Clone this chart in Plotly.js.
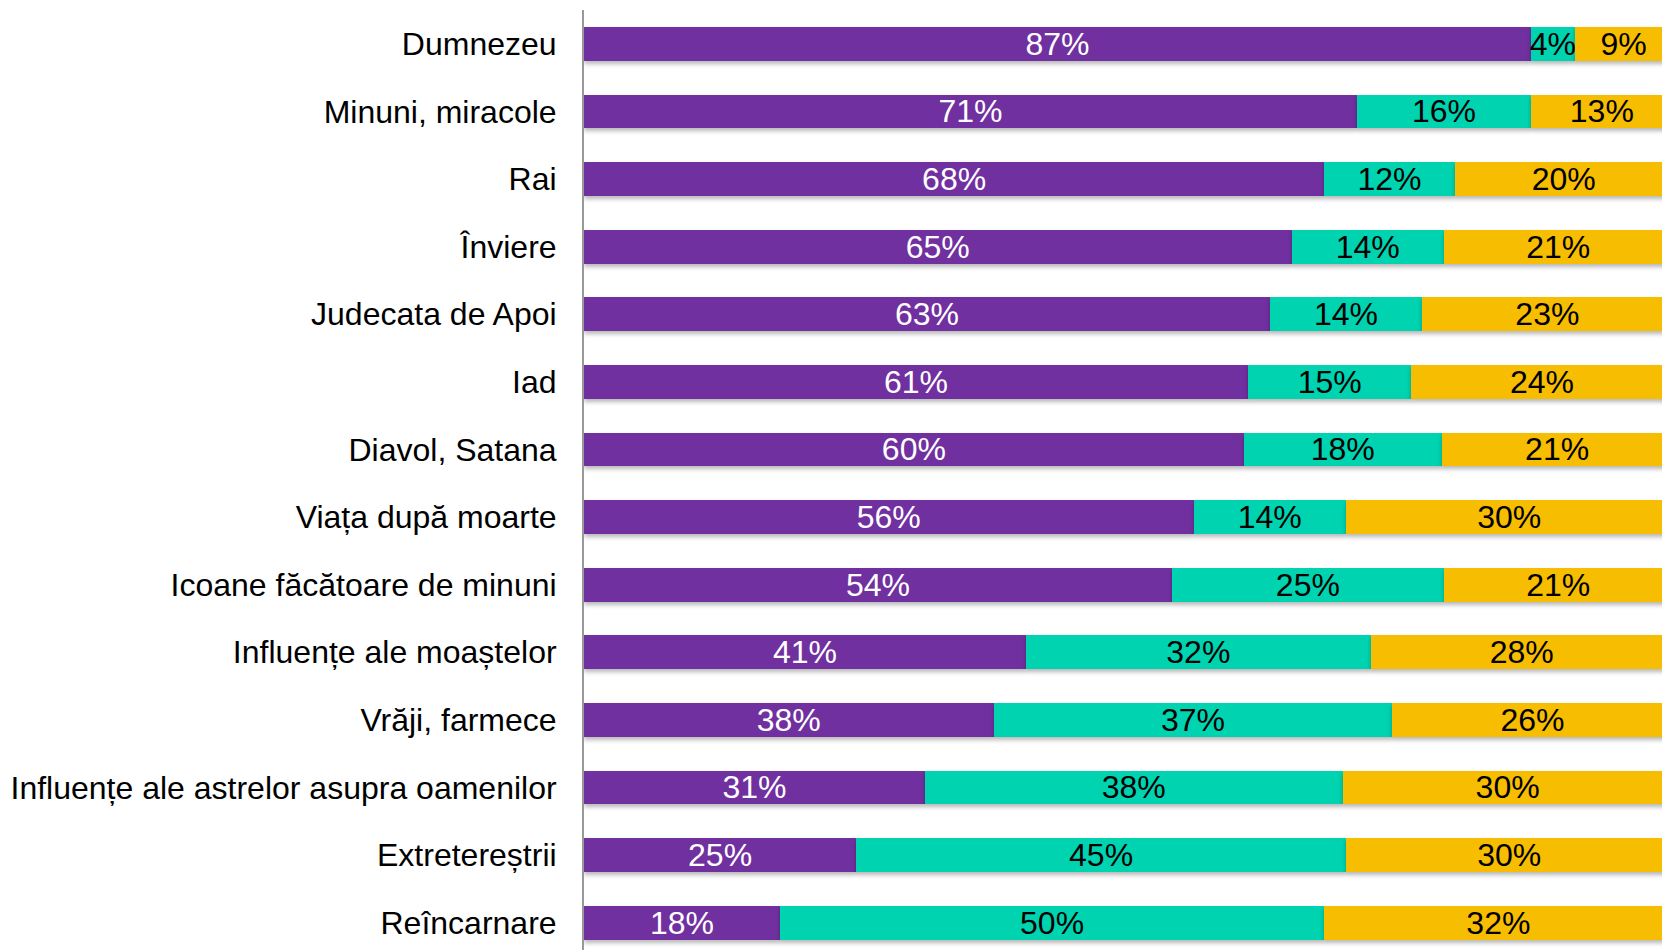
<!DOCTYPE html>
<html>
<head>
<meta charset="utf-8">
<script src="https://cdn.plot.ly/plotly-3.0.1.min.js"></script>
<style>
  html, body { margin: 0; padding: 0; background: #fff; }
  #chart { width: 1662px; height: 950px; }
  .barlayer .point path { filter: drop-shadow(0px 3px 2px rgba(0,0,0,0.28)); }
</style>
</head>
<body>
<div id="chart"></div>
<script>
const categories = [
  "Dumnezeu",
  "Minuni, miracole",
  "Rai",
  "Înviere",
  "Judecata de Apoi",
  "Iad",
  "Diavol, Satana",
  "Viața după moarte",
  "Icoane făcătoare de minuni",
  "Influențe ale moaștelor",
  "Vrăji, farmece",
  "Influențe ale astrelor asupra oamenilor",
  "Extretereștrii",
  "Reîncarnare"
];
const seriesPurple = [87, 71, 68, 65, 63, 61, 60, 56, 54, 41, 38, 31, 25, 18];
const seriesTeal   = [4, 16, 12, 14, 14, 15, 18, 14, 25, 32, 37, 38, 45, 50];
const seriesYellow = [9, 13, 20, 21, 23, 24, 21, 30, 21, 28, 26, 30, 30, 32];

const FONT = "Arial, 'Liberation Sans', sans-serif";

function mk(vals, color, textColor, name) {
  return {
    type: 'bar',
    orientation: 'h',
    name: name,
    y: categories,
    x: vals,
    text: vals.map(v => v + '%'),
    textposition: 'inside',
    insidetextanchor: 'middle',
    constraintext: 'none',
    textfont: { family: FONT, size: 32, color: textColor },
    marker: { color: color, line: { width: 0 } },
    hoverinfo: 'y+text'
  };
}

const data = [
  mk(seriesPurple, '#7030A0', '#FFFFFF', 'Serie 1'),
  mk(seriesTeal, '#00D3B0', '#000000', 'Serie 2'),
  mk(seriesYellow, '#F7BD00', '#000000', 'Serie 3')
];

const layout = {
  width: 1662,
  height: 950,
  barmode: 'stack',
  barnorm: 'percent',
  bargap: 0.5,
  showlegend: false,
  paper_bgcolor: '#FFFFFF',
  plot_bgcolor: '#FFFFFF',
  margin: { l: 584, r: 0, t: 10, b: 0, pad: 0 },
  xaxis: {
    range: [0, 99.03],
    showgrid: false,
    zeroline: false,
    showticklabels: false,
    ticks: '',
    showline: false,
    fixedrange: true
  },
  yaxis: {
    type: 'category',
    range: [13.405, -0.5],
    showgrid: false,
    zeroline: false,
    showline: true,
    linecolor: '#999999',
    linewidth: 2,
    ticks: '',
    ticklabelstandoff: 19,
    tickfont: { family: FONT, size: 32, color: '#000000' },
    fixedrange: true
  }
};

Plotly.newPlot('chart', data, layout, { displayModeBar: false, staticPlot: true });
</script>
</body>
</html>
